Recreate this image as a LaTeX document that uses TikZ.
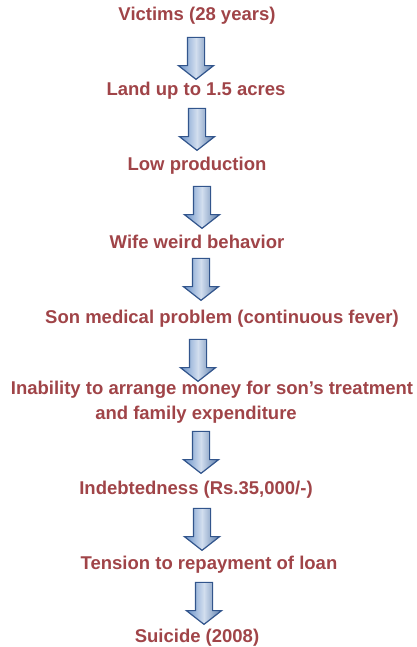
\documentclass[tikz,border=0pt]{standalone}
\usepackage{fontspec}
\setmainfont{Liberation Sans}
\usetikzlibrary{shapes.arrows}
\definecolor{stepcol}{RGB}{160,68,72}
\definecolor{arrowline}{RGB}{50,85,140}
\definecolor{arrowfill}{RGB}{105,145,200}
\tikzset{
	steptext/.style={text=stepcol,font=\fontsize{18.5}{25}\selectfont\bfseries,inner sep=1pt,align=center},
	downarrow/.style={single arrow,shape border rotate=270,draw=arrowline,line width=1.2pt,
		left color=arrowfill,right color=arrowfill!85!black,middle color=arrowfill!30,
		minimum height=42pt,inner sep=8pt,single arrow head extend=9pt,
		single arrow tip angle=104}
}

\begin{document}
\begin{tikzpicture}[x=1pt,y=-1pt]
	\useasboundingbox (0,0) rectangle (416,647);
	
	% STEPS
	\node[steptext] (victims) at (197,16) {Victims (28 years)};
	\node[steptext] (land) at (196,91) {Land up to 1.5 acres};
	\node[steptext] (low) at (197,166) {Low production};
	\node[steptext] (wife) at (197,242) {Wife weird behavior};
	\node[steptext] (son) at (222,319) {Son medical problem (continuous fever)};
	\node[steptext,anchor=north] (money) at (212,380) {Inability to arrange money for son's treatment\\
		\hspace*{-32pt}and family expenditure};
	\node[steptext] (debt) at (196,490) {Indebtedness (Rs.35,000/-)};
	\node[steptext] (tension) at (209,565) {Tension to repayment of loan};
	\node[steptext] (suicide) at (197,638) {Suicide (2008)};
	
	% ARROWS
	\node[downarrow] (a1) at (196,55) {};
	\node[downarrow] (a2) at (197,126) {};
	\node[downarrow] (a3) at (202,204) {};
	\node[downarrow] (a4) at (201,276) {};
	\node[downarrow] (a5) at (198,357) {};
	\node[downarrow] (a6) at (201,449) {};
	\node[downarrow] (a7) at (202,526) {};
	\node[downarrow] (a8) at (204,600) {};
\end{tikzpicture}
\end{document}
